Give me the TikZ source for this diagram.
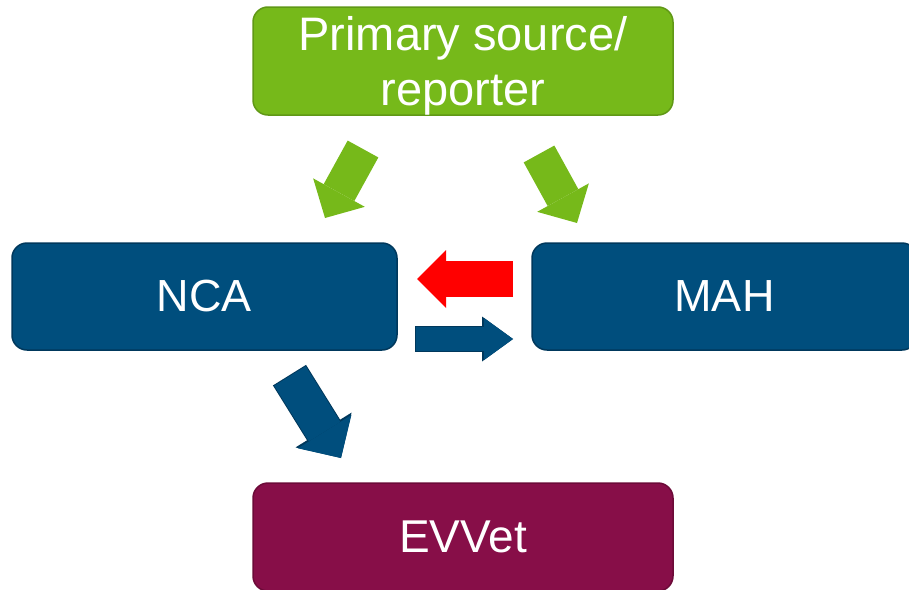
\documentclass[tikz,border=0pt]{standalone}
\usepackage{fontspec}
\setmainfont{Liberation Sans}
\usetikzlibrary{arrows.meta, positioning}
\definecolor{srcgreen}{RGB}{118,185,26}
\definecolor{srcedge}{RGB}{96,152,22}
\definecolor{ncablue}{RGB}{0,78,125}
\definecolor{ncaedge}{RGB}{0,56,92}
\definecolor{evvetred}{RGB}{135,14,72}
\definecolor{evvetedge}{RGB}{108,10,56}
\tikzstyle{block} = [rectangle, rounded corners=15pt, line width=1.5pt, text=white, inner sep=0pt, align=center]
\tikzstyle{source} = [draw=srcedge, fill=srcgreen, block, minimum width=420pt, minimum height=108pt, font=\fontsize{47}{55}\selectfont]
\tikzstyle{agency} = [draw=ncaedge, fill=ncablue, block, minimum width=385pt, minimum height=107pt, font=\fontsize{45}{52}\selectfont]
\tikzstyle{database} = [draw=evvetedge, fill=evvetred, block, minimum width=420pt, minimum height=108pt, font=\fontsize{46}{53}\selectfont]
\tikzstyle{report} = [draw=srcgreen, line width=35pt, -{Triangle[length=29pt, width=59pt, line width=0pt]}]
\tikzstyle{reject} = [draw=red, line width=36pt, -{Triangle[length=29pt, width=58pt, line width=0pt]}]
\tikzstyle{submit edge} = [draw=ncaedge, line width=26pt, shorten <=-1pt, -{Triangle[length=31pt, width=45pt, line width=0pt]}]
\tikzstyle{submit} = [draw=ncablue, line width=24pt, -{Triangle[length=29pt, width=42pt, line width=0pt]}]
\tikzstyle{forward edge} = [draw=ncaedge, line width=39pt, shorten <=-1pt, -{Triangle[length=33pt, width=66pt, line width=0pt]}]
\tikzstyle{forward} = [draw=ncablue, line width=37pt, -{Triangle[length=31pt, width=63pt, line width=0pt]}]

\begin{document}
\begin{tikzpicture}[x=1pt, y=-1pt]
    \clip (0,0) rectangle (909,589);
    \node (source) [source, text depth=1pt] at (463,61) {Primary source/\\reporter};
    \node (nca) [agency] at (204.5,296.5) {NCA};
    \node (mah) [agency, right=133.5pt of nca] {MAH};
    \node (evvet) [database, below=366.5pt of source] {EVVet};

    % Arrow ends.
    \coordinate (source-nca tail) at (363,149);
    \coordinate (source-nca tip) at (325,218);
    \coordinate (source-mah tail) at (539,154);
    \coordinate (source-mah tip) at (577,223);
    \coordinate (mah-nca tail) at (513,279);
    \coordinate (mah-nca tip) at (417,279);
    \coordinate (nca-mah tail) at (416,339);
    \coordinate (nca-mah tip) at (513,339);
    \coordinate (nca-evvet tail) at (290,376);
    \coordinate (nca-evvet tip) at (341,458);

    % Arrows.
    \draw [report] (source-nca tail) -- (source-nca tip);
    \draw [report] (source-mah tail) -- (source-mah tip);
    \draw [reject] (mah-nca tail) -- (mah-nca tip);
    \draw [submit edge] (nca-mah tail) -- (nca-mah tip);
    \draw [submit] (nca-mah tail) -- (nca-mah tip);
    \draw [forward edge] (nca-evvet tail) -- (nca-evvet tip);
    \draw [forward] (nca-evvet tail) -- (nca-evvet tip);
\end{tikzpicture}
\end{document}
